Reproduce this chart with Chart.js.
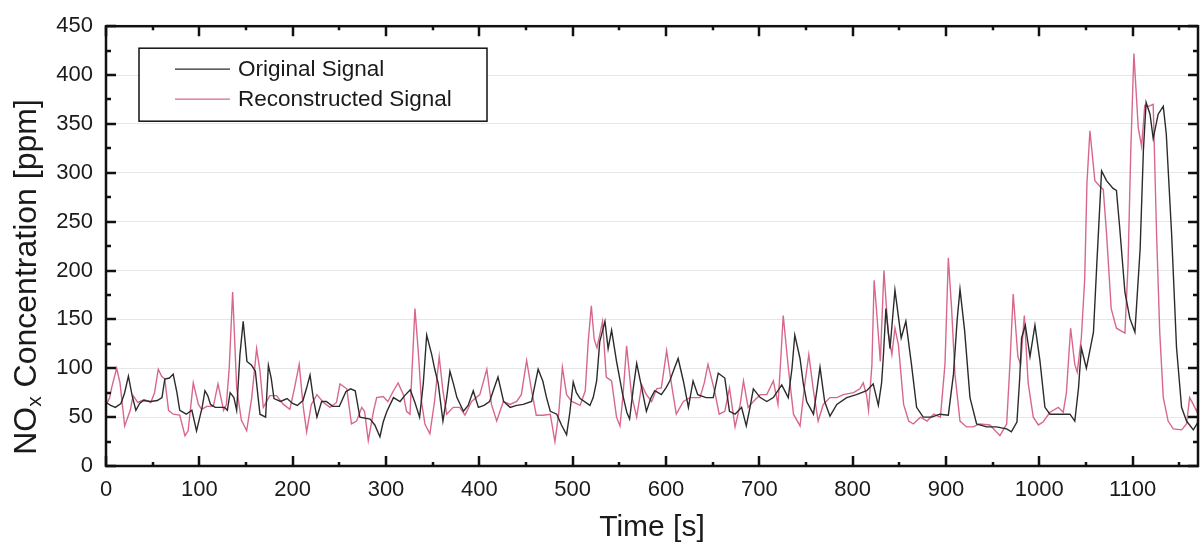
<!DOCTYPE html>
<html>
<head>
<meta charset="utf-8">
<script src="https://cdn.jsdelivr.net/npm/chart.js@4.4.1/dist/chart.umd.min.js"></script>
<style>
  html, body { margin: 0; padding: 0; background: #fff; }
</style>
</head>
<body>
<canvas id="chart" width="1201" height="552"></canvas>
<script>
const FONT = '"Liberation Sans", Arial, Helvetica, sans-serif'
const INK = '#1a1a1a'

const X_MIN = 0
const X_MAX = 1170
const Y_MIN = 0
const Y_MAX = 450

const originalTimes = [
  0, 5, 10, 16, 20, 24, 28, 32, 36, 40, 48, 55, 60, 63, 68, 72, 76, 79, 86, 92,
  97, 100, 103, 106, 109, 112, 117, 122, 127, 130, 133, 137, 140, 143.5, 147, 151, 156, 160, 163, 165,
  171, 174, 177, 180, 187, 194, 200, 205, 211, 215, 218.6, 222, 226, 231, 236, 243, 250, 257, 262, 267,
  272, 283, 288, 293.5, 297, 301, 308, 315, 320, 326, 331, 336, 340, 343.6, 349, 352, 356, 361, 365, 368.5,
  372, 376, 383, 388, 393.5, 399, 405, 411, 416, 420, 426, 433, 440, 447, 456, 460, 463, 468, 472, 476,
  483, 488, 493.5, 497, 500.6, 504, 508, 518.5, 522, 525.7, 529, 534.6, 538, 541.7, 547, 553.6, 558, 561, 565, 568.6,
  574, 579, 584, 588, 595, 600, 604, 609, 613, 618.6, 624, 629, 634, 643, 650.6, 656, 663, 668, 674, 681,
  686, 690, 693.6, 701, 708, 715, 724, 731, 735, 738, 743.6, 747, 750.7, 758, 762, 765, 770, 775.7, 783, 793.6,
  804, 815, 822, 827.5, 831, 833, 835.6, 840, 845.3, 852, 857, 863, 868.5, 875.6, 884.6, 893.5, 902.5, 908, 912, 915,
  920, 925.7, 932.8, 943.5, 954, 965, 970, 976, 979, 981, 985, 990, 995.3, 1000.6, 1006, 1011.4, 1022, 1032.8, 1038, 1042,
  1045, 1050.4, 1058, 1061.5, 1066.7, 1072, 1079, 1082.6, 1086, 1091.7, 1097, 1102.4, 1108, 1111.5, 1114.4, 1118.6, 1122, 1127.3, 1132.8, 1136,
  1141.7, 1147, 1152.4, 1157.7, 1165, 1170
]
const originalValues = [
  65, 62, 60, 64, 75, 92, 72, 57, 64, 67, 66, 67, 70, 89, 90, 94, 75, 57, 53, 57,
  36, 48, 60, 77, 72, 63, 60, 60, 60, 57, 75, 70, 57, 114, 148, 107, 103, 97, 70, 53,
  50, 103, 90, 69, 66, 69, 64, 62, 67, 80, 93, 70, 50, 66, 66, 61, 61, 76, 79, 77,
  50, 48, 42, 30, 45, 56, 70, 66, 72, 78, 65, 50, 85, 134, 114, 100, 84, 46, 70, 97,
  85, 70, 56, 62, 77, 60, 62, 66, 80, 91, 66, 60, 62, 63, 66, 85, 99, 87, 70, 56,
  53, 42, 32, 55, 86, 75, 69, 62, 70, 87, 127, 148, 120, 139, 107, 73, 55, 48, 80, 105,
  80, 56, 70, 77, 73, 80, 87, 100, 110, 87, 60, 87, 73, 70, 70, 95, 90, 56, 53, 60,
  41, 60, 79, 70, 66, 70, 83, 70, 100, 134, 110, 85, 66, 53, 80, 101, 66, 51, 63, 70,
  73, 77, 84, 62, 85, 114, 161, 120, 180, 131, 148, 104, 60, 50, 50, 53, 52, 94, 150, 181,
  138, 70, 43, 40, 40, 38, 35, 45, 90, 131, 144, 112, 144, 108, 60, 53, 53, 53, 46, 80,
  121, 100, 137, 205, 302, 292, 284, 282, 245, 178, 151, 137, 222, 323, 372, 360, 335, 360, 368, 340,
  238, 121, 60, 46, 37, 45
]

const reconstructedTimes = [
  0, 4, 6, 11.4, 15, 20, 26, 29, 34, 41, 48, 52, 56, 59.5, 63, 67, 72, 79, 84.6, 88,
  93.5, 99, 102.5, 108, 115, 120, 126, 129, 132, 135.7, 140, 145, 150.7, 156, 161.4, 165, 168.5, 175.6, 182.7, 190,
  197, 202, 207, 211.4, 215, 220, 226, 233, 240, 247, 250.7, 258, 263, 268.5, 274, 277, 281, 286.6, 290, 297,
  302, 308, 313, 318.6, 322, 325.7, 328, 331, 334.6, 338, 341.7, 347, 352, 357, 361, 365, 372, 379, 384.6, 391.7,
  400.5, 404, 408, 413, 418.6, 425.7, 433, 440, 445, 450.7, 456, 461, 468.5, 476, 481, 485, 489, 493.5, 499, 508,
  513.5, 516.7, 520, 523, 526, 529, 532, 536, 541.7, 547, 550.7, 554, 557.8, 563, 568.6, 574, 579, 584.6, 590, 595,
  600.7, 606, 611, 618.6, 625.7, 636.4, 641, 645, 652, 657, 663, 668, 674, 679.5, 683, 688, 693.6, 701, 708, 715,
  720, 723, 725.6, 731, 736.6, 743.6, 748.6, 753, 758, 763, 768.5, 775.7, 783, 790, 801, 807.7, 811.3, 815, 817, 820.6,
  823, 826, 829.6, 833.5, 838, 842, 845.3, 849, 854.6, 860, 865, 872.6, 879.7, 886.8, 894, 898.9, 902.5, 906, 909.6, 915,
  922, 929, 936, 947, 957.8, 965, 968.5, 972, 977, 980, 983.9, 988, 993.5, 999, 1004, 1011.4, 1020.3, 1025.6, 1029, 1033.5,
  1038, 1040.6, 1045, 1048.6, 1051, 1054.2, 1059.5, 1065, 1068.5, 1072, 1077, 1082.6, 1091.7, 1095, 1098, 1101.3, 1106, 1109.6, 1113, 1117,
  1122, 1125.6, 1129, 1132.8, 1138, 1143.5, 1152.4, 1157.7, 1161, 1165, 1168.5, 1170
]
const reconstructedValues = [
  62, 70, 80, 100, 85, 41, 57, 72, 65, 68, 65, 75, 99, 92, 89, 57, 53, 52, 31, 36,
  85, 63, 58, 61, 61, 84, 57, 63, 100, 178, 80, 47, 36, 69, 120, 97, 60, 72, 72, 63,
  58, 80, 104, 60, 35, 63, 73, 65, 60, 65, 84, 79, 43, 46, 60, 56, 26, 56, 70, 71,
  66, 77, 85, 73, 56, 53, 100, 161, 117, 66, 43, 33, 66, 112, 77, 53, 60, 60, 52, 66,
  73, 85, 99, 63, 46, 66, 63, 66, 73, 108, 77, 52, 52, 53, 25, 53, 101, 73, 66, 62,
  77, 128, 164, 130, 121, 134, 148, 91, 87, 50, 41, 73, 123, 73, 50, 83, 73, 66, 79, 80,
  118, 83, 53, 66, 70, 70, 85, 104, 77, 53, 56, 80, 40, 63, 87, 60, 66, 73, 73, 87,
  63, 110, 154, 101, 53, 41, 83, 114, 77, 46, 63, 70, 70, 73, 75, 79, 85, 72, 57, 103,
  190, 154, 107, 200, 137, 114, 141, 124, 63, 46, 43, 50, 46, 53, 50, 104, 213, 161, 94, 46,
  40, 40, 43, 42, 31, 43, 104, 176, 112, 104, 154, 85, 50, 42, 45, 55, 60, 55, 75, 141,
  104, 96, 131, 191, 289, 343, 292, 286, 283, 238, 161, 141, 136, 205, 323, 422, 346, 327, 369, 368,
  370, 238, 137, 70, 46, 38, 37, 43, 70, 63, 56, 61
]

const SERIES = [
  { label: 'Original Signal', color: '#2b2b2b', times: originalTimes, values: originalValues },
  { label: 'Reconstructed Signal', color: '#d8688a', times: reconstructedTimes, values: reconstructedValues }
]

// ticks pointing inwards on all four sides plus the closed frame
const frameTicks = {
  id: 'frameTicks',
  afterDatasetsDraw (chart) {
    const { ctx, chartArea: a, scales: { x, y } } = chart
    ctx.save()
    ctx.strokeStyle = '#111'
    ctx.lineWidth = 2.5
    ctx.beginPath()
    for (let t = X_MIN; t <= X_MAX; t += 50) {
      const px = Math.round(x.getPixelForValue(t))
      const len = t % 100 === 0 ? 10 : 4
      ctx.moveTo(px, a.bottom); ctx.lineTo(px, a.bottom - len)
      ctx.moveTo(px, a.top); ctx.lineTo(px, a.top + len)
    }
    for (let v = Y_MIN; v <= Y_MAX; v += 25) {
      const py = Math.round(y.getPixelForValue(v))
      const len = v % 50 === 0 ? 10 : 5
      ctx.moveTo(a.left, py); ctx.lineTo(a.left + len, py)
      ctx.moveTo(a.right, py); ctx.lineTo(a.right - len, py)
    }
    ctx.stroke()
    ctx.strokeRect(a.left, a.top, a.right - a.left, a.bottom - a.top)
    ctx.restore()
  }
}

// boxed legend sitting inside the plot, top left
const boxLegend = {
  id: 'boxLegend',
  afterDraw (chart) {
    const { ctx, chartArea: a } = chart
    const bx = a.left + 33
    const by = a.top + 22
    ctx.save()
    ctx.fillStyle = '#fff'
    ctx.fillRect(bx, by, 348, 73)
    ctx.strokeStyle = '#111'
    ctx.lineWidth = 1.5
    ctx.strokeRect(bx, by, 348, 73)
    ctx.font = `22.5px ${FONT}`
    ctx.textBaseline = 'middle'
    chart.data.datasets.forEach((ds, i) => {
      const ly = by + 21 + i * 30
      ctx.strokeStyle = ds.borderColor
      ctx.lineWidth = 1.3
      ctx.beginPath()
      ctx.moveTo(bx + 36, ly); ctx.lineTo(bx + 91, ly)
      ctx.stroke()
      ctx.fillStyle = INK
      ctx.fillText(ds.label, bx + 99, ly + 1)
    })
    ctx.restore()
  }
}

// y axis title with a real subscript x
const yTitle = {
  id: 'yTitle',
  afterDraw (chart) {
    const { ctx } = chart
    const big = `32px ${FONT}`
    const small = `21px ${FONT}`
    const parts = [['NO', big, 0], ['x', small, 8], [' Concentration [ppm]', big, 0]]
    ctx.save()
    let total = 0
    parts.forEach(([t, f]) => { ctx.font = f; total += ctx.measureText(t).width })
    ctx.translate(27, 277)
    ctx.rotate(-Math.PI / 2)
    ctx.fillStyle = INK
    ctx.textBaseline = 'middle'
    let cx = -total / 2
    parts.forEach(([t, f, dy]) => {
      ctx.font = f
      ctx.fillText(t, cx, dy)
      cx += ctx.measureText(t).width
    })
    ctx.restore()
  }
}

new Chart(document.getElementById('chart'), {
  type: 'line',
  data: {
    datasets: SERIES.map(s => ({
      label: s.label,
      data: s.times.map((t, i) => ({ x: t, y: s.values[i] })),
      borderColor: s.color,
      backgroundColor: s.color,
      borderWidth: 1.4,
      pointRadius: 0,
      tension: 0,
      fill: false
    }))
  },
  options: {
    responsive: false,
    animation: false,
    layout: { padding: { left: 0, right: 3, top: 21, bottom: 0 } },
    plugins: {
      legend: { display: false },
      tooltip: { enabled: false }
    },
    scales: {
      x: {
        type: 'linear',
        min: X_MIN,
        max: X_MAX,
        afterFit: (s) => { s.height = 86 },
        grid: { display: false, drawTicks: false },
        border: { display: false },
        ticks: {
          stepSize: 100,
          includeBounds: false,
          maxRotation: 0,
          padding: 11,
          color: INK,
          font: { family: FONT, size: 22 },
          callback: (v) => String(v)
        },
        title: {
          display: true,
          text: 'Time [s]',
          color: INK,
          font: { family: FONT, size: 30 },
          padding: { top: 0, bottom: 6 }
        }
      },
      y: {
        min: Y_MIN,
        max: Y_MAX,
        afterFit: (s) => { s.width = 106 },
        grid: { color: '#e6e6e6', lineWidth: 1, drawTicks: false },
        border: { display: false },
        ticks: {
          stepSize: 50,
          padding: 13,
          color: INK,
          font: { family: FONT, size: 22 },
          callback: (v) => String(v)
        }
      }
    }
  },
  plugins: [frameTicks, boxLegend, yTitle]
})
</script>
</body>
</html>
